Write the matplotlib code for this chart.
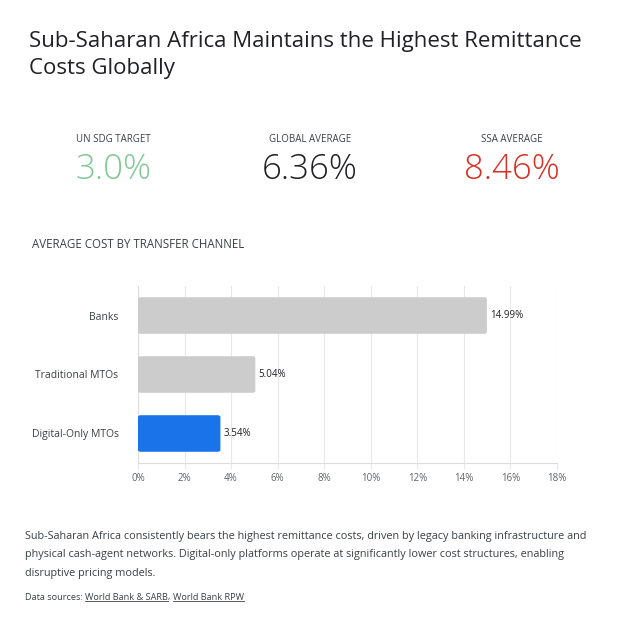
import matplotlib
matplotlib.use("Agg")
import matplotlib.pyplot as plt
from matplotlib.patches import FancyBboxPatch
from matplotlib.lines import Line2D

plt.rcParams['font.family'] = ['Open Sans', 'DejaVu Sans']

# data
channels = ["Banks", "Traditional MTOs", "Digital-Only MTOs"]
costs = [14.99, 5.04, 3.54]
bar_colors = ["#cccccc", "#cccccc", "#1a73e8"]
xticks = [0, 2, 4, 6, 8, 10, 12, 14, 16, 18]

kpi_labels = ["UN SDG TARGET", "GLOBAL AVERAGE", "SSA AVERAGE"]
kpi_values = ["3.0%", "6.36%", "8.46%"]
kpi_colors = ["#81c995", "#202124", "#d93025"]

title = "Sub-Saharan Africa Maintains the Highest Remittance\nCosts Globally"
subtitle = "AVERAGE COST BY TRANSFER CHANNEL"
note = ("Sub-Saharan Africa consistently bears the highest remittance costs, driven by legacy banking infrastructure and\n"
        "physical cash-agent networks. Digital-only platforms operate at significantly lower cost structures, enabling\n"
        "disruptive pricing models.")
sources = ["World Bank & SARB", "World Bank RPW"]

W, H = 620, 628
fig = plt.figure(figsize=(W / 100, H / 100), dpi=100)
fig.patch.set_facecolor("white")


def fx(px):
    return px / W


def fy(py):
    return 1 - py / H


fig.text(fx(29), fy(55), title, fontsize=16, color="#202124", ha="left", va="center",
         linespacing=1.38)

kpi_x = [113, 310, 512]
for x, lab, val, col in zip(kpi_x, kpi_labels, kpi_values, kpi_colors):
    fig.text(fx(x), fy(139), lab, fontsize=7, color="#3c4043", ha="center", va="center")
    fig.text(fx(x), fy(170), val, fontsize=25, color=col, ha="center", va="center",
             fontweight="light")

fig.text(fx(32), fy(245), subtitle, fontsize=8.3, color="#3c4043", ha="left", va="center")

# bar chart
ax = fig.add_axes([fx(138), fy(463), fx(557) - fx(138), (463 - 286) / H])
ypos = list(range(len(channels)))
bh = 0.62
for y, v, c in zip(ypos, costs, bar_colors):
    patch = FancyBboxPatch((0, y - bh / 2), v, bh,
                           boxstyle="round,pad=0,rounding_size=0.12",
                           mutation_aspect=0.25,
                           facecolor=c, edgecolor="none", zorder=3)
    ax.add_patch(patch)
    ax.text(v + 0.15, y, f"{v:.2f}%", fontsize=7, color="#202124", ha="left", va="center")

ax.set_xlim(0, 18)
ax.set_ylim(2.5, -0.5)
ax.set_yticks(ypos)
ax.set_yticklabels(channels, fontsize=7.5, color="#3c4043")
ax.set_xticks(xticks)
ax.set_xticklabels([f"{t}%" for t in xticks], fontsize=7, color="#5f6368")
ax.grid(axis="x", color="#e8e8e8", linewidth=0.8, zorder=0)
ax.tick_params(axis="y", length=0, pad=14)
ax.tick_params(axis="x", length=4, color="#e8e8e8", pad=3)
for s in ["top", "right"]:
    ax.spines[s].set_visible(False)
for s in ["left", "bottom"]:
    ax.spines[s].set_color("#dddddd")
    ax.spines[s].set_linewidth(0.8)

fig.text(fx(25), fy(555), note, fontsize=7.85, color="#3c4043", ha="left", va="center",
         linespacing=1.95)

# sources with underlined links
fig.canvas.draw()
renderer = fig.canvas.get_renderer()
y_src = fy(597)
fs_src = 6.6
t0 = fig.text(fx(25), y_src, "Data sources: ", fontsize=fs_src, color="#3c4043", ha="left", va="center")
x_cur = t0.get_window_extent(renderer).x1
for i, s in enumerate(sources):
    t = fig.text(x_cur / W, y_src, s, fontsize=fs_src, color="#3c4043", ha="left", va="center")
    bb = t.get_window_extent(renderer)
    fig.add_artist(Line2D([bb.x0 / W, bb.x1 / W], [(bb.y0 + 1) / H, (bb.y0 + 1) / H],
                          color="#3c4043", linewidth=0.6))
    x_cur = bb.x1
    if i < len(sources) - 1:
        c = fig.text(x_cur / W, y_src, ", ", fontsize=fs_src, color="#3c4043", ha="left", va="center")
        x_cur = c.get_window_extent(renderer).x1

fig.savefig("out.png", dpi=100, facecolor="white")
